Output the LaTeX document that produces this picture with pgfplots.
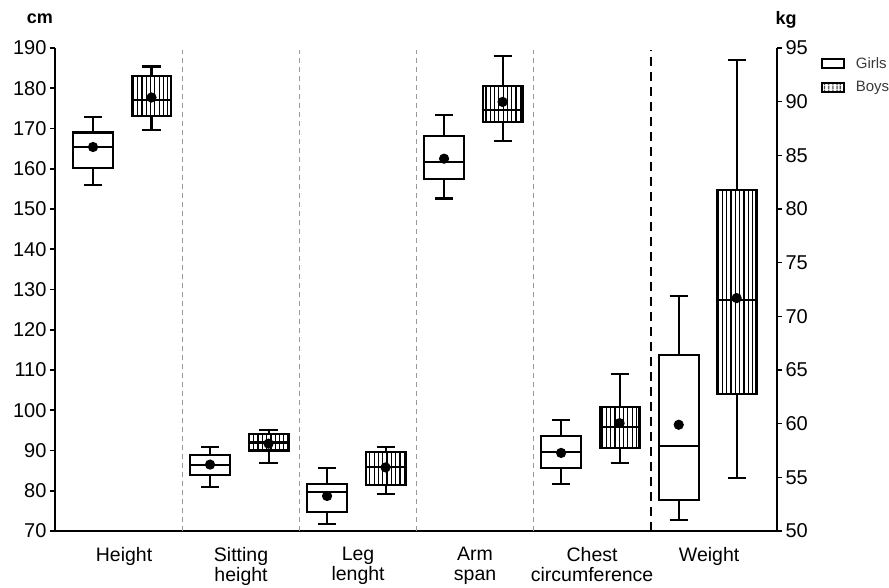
\documentclass[border=0pt]{standalone}
\usepackage{fontspec}
\setmainfont{Liberation Sans}
\usepackage{pgfplots}
\pgfplotsset{compat=1.18}
\usepgfplotslibrary{statistics}
\usetikzlibrary{patterns.meta}
\definecolor{divgray}{HTML}{9A9A9A}
\definecolor{leggray}{HTML}{3A3A3A}
\pgfplotsset{
  bx/.style={black, line width=2.1pt, solid, line join=miter, boxplot/draw direction=y,
    boxplot/draw/average/.code={\fill[black] (boxplot box cs:\pgfplotsboxplotvalue{average},0.5) circle[radius=4pt];}},
  girls/.style={bx, fill=white},
  boys/.style={bx, pattern={Lines[angle=90, distance=4.3pt, line width=1.2pt]}, pattern color=black},
}
\begin{document}
\begin{tikzpicture}
\useasboundingbox (-55pt,-56pt) rectangle (834pt,531pt);
\begin{axis}[
  scale only axis, width=722pt, height=483pt,
  xmin=-0.59, xmax=5.58, ymin=70, ymax=190,
  axis x line=bottom, axis y line=left,
  axis line style={-, line width=2.4pt, black},
  ytick={70,80,...,190},
  xtick={0,1,2,3,4,5},
  xticklabels={Height, Sitting\\height, Leg\\lenght, Arm\\span, Chest\\circumference, Weight},
  x tick label style={align=center, font=\fontsize{19.5}{19.5}\selectfont, yshift=-8pt},
  major x tick style={draw=none},
  y tick label style={font=\fontsize{20}{20}\selectfont},
  major y tick style={line width=1.6pt, black},
  tick align=outside, major tick length=5pt,
  /pgf/number format/assume math mode=true,
  clip=false,
]
\draw[divgray, line width=1pt, dash pattern=on 5pt off 4pt] (axis cs:0.5,70) -- (axis cs:0.5,189.5);
\draw[divgray, line width=1pt, dash pattern=on 5pt off 4pt] (axis cs:1.5,70) -- (axis cs:1.5,189.5);
\draw[divgray, line width=1pt, dash pattern=on 5pt off 4pt] (axis cs:2.5,70) -- (axis cs:2.5,189.5);
\draw[divgray, line width=1pt, dash pattern=on 5pt off 4pt] (axis cs:3.5,70) -- (axis cs:3.5,189.5);
\draw[black, line width=2pt, dash pattern=on 9pt off 6pt] (axis cs:4.5,70) -- (axis cs:4.5,189.5);
% Height
\addplot[girls, boxplot prepared={draw position=-0.265, lower whisker=156, lower quartile=160.2, median=165.5, upper quartile=169, upper whisker=172.9, average=165.4, box extend=0.34, whisker extend=0.155}] coordinates {};
\addplot[boys, boxplot prepared={draw position=0.235, lower whisker=169.7, lower quartile=173, median=177, upper quartile=183.1, upper whisker=185.4, average=177.7, box extend=0.34, whisker extend=0.155}] coordinates {};
% Sitting height
\addplot[girls, boxplot prepared={draw position=0.735, lower whisker=81, lower quartile=84, median=86.5, upper quartile=88.8, upper whisker=90.9, average=86.5, box extend=0.34, whisker extend=0.155}] coordinates {};
\addplot[boys, boxplot prepared={draw position=1.235, lower whisker=87, lower quartile=90, median=92, upper quartile=94.1, upper whisker=95, average=91.7, box extend=0.34, whisker extend=0.155}] coordinates {};
% Leg length
\addplot[girls, boxplot prepared={draw position=1.735, lower whisker=71.7, lower quartile=74.7, median=79.8, upper quartile=81.6, upper whisker=85.6, average=78.7, box extend=0.34, whisker extend=0.155}] coordinates {};
\addplot[boys, boxplot prepared={draw position=2.235, lower whisker=79.3, lower quartile=81.5, median=85.8, upper quartile=89.6, upper whisker=90.9, average=85.8, box extend=0.34, whisker extend=0.155}] coordinates {};
% Arm span
\addplot[girls, boxplot prepared={draw position=2.735, lower whisker=152.6, lower quartile=157.5, median=161.6, upper quartile=168.2, upper whisker=173.3, average=162.5, box extend=0.34, whisker extend=0.155}] coordinates {};
\addplot[boys, boxplot prepared={draw position=3.235, lower whisker=166.8, lower quartile=171.6, median=174.5, upper quartile=180.5, upper whisker=188, average=176.6, box extend=0.34, whisker extend=0.155}] coordinates {};
% Chest circumference
\addplot[girls, boxplot prepared={draw position=3.735, lower whisker=81.6, lower quartile=85.6, median=89.6, upper quartile=93.7, upper whisker=97.5, average=89.4, box extend=0.34, whisker extend=0.155}] coordinates {};
\addplot[boys, boxplot prepared={draw position=4.235, lower whisker=86.8, lower quartile=90.7, median=95.9, upper quartile=100.7, upper whisker=109.1, average=96.8, box extend=0.34, whisker extend=0.155}] coordinates {};
\node[font=\bfseries\fontsize{18}{18}\selectfont, anchor=base] at ([xshift=-15pt, yshift=24pt]rel axis cs:0,1) {cm};
\end{axis}
\begin{axis}[
  scale only axis, width=722pt, height=483pt,
  xmin=-0.59, xmax=5.58, ymin=50, ymax=95,
  axis x line=none, axis y line=right,
  axis line style={-, line width=2.4pt, black},
  ytick={50,55,...,95},
  y tick label style={font=\fontsize{20}{20}\selectfont},
  major y tick style={line width=1.6pt, black},
  tick align=outside, major tick length=5pt,
  /pgf/number format/assume math mode=true,
  clip=false,
  legend style={at={([xshift=44pt, yshift=-9pt]rel axis cs:1,1)}, anchor=north west, draw=none, fill=none,
    font=\fontsize{15}{15}\selectfont, text=leggray, row sep=12pt, inner sep=0pt,
    nodes={inner sep=0pt}},
  legend cell align=left,
  legend image code/.code={\draw[#1, line width=1.3pt] (0pt,-4.5pt) rectangle (22pt,4.5pt); \path[draw=none, fill=none, pattern=none] (0pt,0pt) rectangle (34pt,0.1pt);},
]
\addlegendimage{draw=black, fill=white}
\addlegendentry{Girls}
\addlegendimage{draw=black, pattern={Lines[angle=90, distance=4pt, line width=1pt]}, pattern color=black}
\addlegendentry{Boys}
% Weight (kg)
\addplot[girls, forget plot, boxplot prepared={draw position=4.74, lower whisker=51, lower quartile=52.9, median=57.9, upper quartile=66.4, upper whisker=71.9, average=59.9, box extend=0.34, whisker extend=0.155}] coordinates {};
\addplot[boys, forget plot, boxplot prepared={draw position=5.235, lower whisker=54.9, lower quartile=62.8, median=71.5, upper quartile=81.8, upper whisker=93.9, average=71.7, box extend=0.34, whisker extend=0.155}] coordinates {};
\node[font=\bfseries\fontsize{18}{18}\selectfont, anchor=base] at ([xshift=9pt, yshift=24pt]rel axis cs:1,1) {kg};
\end{axis}
\end{tikzpicture}
\end{document}
